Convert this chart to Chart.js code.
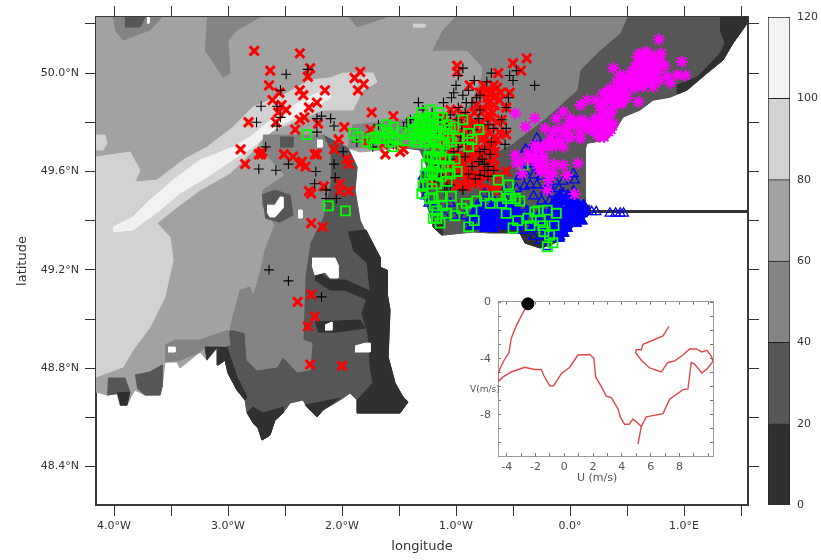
<!DOCTYPE html>
<html>
<head>
<meta charset="utf-8">
<script src="https://cdn.jsdelivr.net/npm/chart.js@4/dist/chart.umd.min.js"></script>
<style>
  html, body { margin: 0; background: #fff; }
  #wrap { position: relative; width: 821px; height: 560px; overflow: hidden; font-family: "DejaVu Sans", sans-serif; }
  canvas { position: absolute; }
  #map { filter: blur(0.35px); }
  #inset { filter: blur(0.5px); }
  .lbl { position: absolute; font-size: 11px; color: #555; white-space: nowrap; filter: blur(0.3px); }
</style>
</head>
<body>
<div id="wrap">
  <canvas id="map" width="821" height="560" style="left:0;top:0"></canvas>
  <canvas id="bar" width="53" height="560" style="left:768px;top:0"></canvas>
  <canvas id="inset" width="260" height="205" style="left:462px;top:285px"></canvas>
  <div class="lbl" style="left:470px;top:384px;font-size:9px">V(m/s)</div>
  <div class="lbl" style="left:577px;top:471px">U (m/s)</div>
</div>
<script>
// axes
const lonTicks = [-4, -3.5, -3, -2.5, -2, -1.5, -1, -0.5, 0, 0.5, 1, 1.5];
const lonLabels = ['4.0°W', '', '3.0°W', '', '2.0°W', '', '1.0°W', '', '0.0°', '', '1.0°E', ''];
const latTicks = [48.4, 48.6, 48.8, 49, 49.2, 49.4, 49.6, 49.8, 50, 50.2];
const latLabels = ['48.4°N', '', '48.8°N', '', '49.2°N', '', '49.6°N', '', '50.0°N', ''];

// colour bar
const bandValues = [20, 20, 20, 20, 20, 20];
const bandColors = ['#303030', '#565656', '#848484', '#a2a2a2', '#d2d2d2', '#f2f2f2'];

// coast, lon/lat
const neCoast = [[1.561,50.207],[1.430,50.122],[1.342,50.053],[1.202,50.000],[1.026,49.931],[0.877,49.902],[0.728,49.890],[0.614,49.850],[0.465,49.821],[0.412,49.780],[0.325,49.728],[0.149,49.715],[0.132,49.687],[0.132,49.463],[0.175,49.451],[0.175,49.427]];
const seineCoast = [[0.061,49.390],[-0.088,49.321],[-0.175,49.301],[-0.263,49.289],[-0.395,49.309],[-0.439,49.350],[-0.702,49.350],[-0.851,49.354],[-1.123,49.341],[-1.202,49.374],[-1.228,49.431],[-1.316,49.524],[-1.316,49.577],[-1.254,49.618],[-1.316,49.687],[-1.491,49.699],[-1.667,49.687],[-1.842,49.679],[-1.947,49.695]];
const cotentinCoast = [[-1.868,49.618],[-1.886,49.524],[-1.842,49.402],[-1.772,49.333],[-1.667,49.252],[-1.667,49.211],[-1.605,49.199],[-1.605,49.106],[-1.579,49.037],[-1.596,48.846],[-1.535,48.740],[-1.465,48.683],[-1.421,48.663],[-1.491,48.618],[-1.868,48.618],[-1.868,48.671]];
const bayCoast = [[-1.930,48.699],[-2.018,48.671],[-2.167,48.630],[-2.219,48.602],[-2.307,48.642],[-2.342,48.671],[-2.456,48.659],[-2.518,48.618],[-2.588,48.589],[-2.632,48.528],[-2.702,48.508],[-2.737,48.557],[-2.781,48.577],[-2.833,48.618],[-2.851,48.671],[-2.921,48.711],[-3.000,48.780],[-3.026,48.833],[-3.088,48.813]];
const brittanyCoast = [[-3.096,48.882],[-3.184,48.833],[-3.246,48.866],[-3.421,48.801],[-3.447,48.825],[-3.553,48.825],[-3.579,48.724],[-3.596,48.691],[-3.728,48.691],[-3.816,48.711],[-3.842,48.691],[-3.886,48.650],[-3.947,48.650],[-3.974,48.699],[-4.061,48.691],[-4.123,48.699],[-4.158,48.703]];
const midEastEdge = [[0.500,50.228],[0.439,50.163],[0.263,50.093],[0.088,50.012],[0.061,49.931],[-0.202,49.821],[-0.500,49.715],[-0.614,49.687]];

// depth bands, one polygon each
const sea60 = [[-4.158,50.228],[1.561,50.228],...neCoast,...seineCoast,...cotentinCoast,...bayCoast,...brittanyCoast];
const band80 = [[-4.158,49.659],[-3.860,49.679],[-3.772,49.606],[-3.816,49.557],[-3.623,49.565],[-3.395,49.646],[-3.184,49.699],[-2.956,49.780],[-2.781,49.862],[-2.482,49.919],[-2.281,49.972],[-2.105,49.980],[-1.991,50.000],[-1.728,50.000],[-1.693,49.963],[-1.816,49.931],[-1.904,49.850],[-2.167,49.850],[-2.342,49.817],[-2.693,49.748],[-2.746,49.699],[-2.982,49.593],[-3.246,49.524],[-3.447,49.455],[-3.623,49.390],[-3.509,49.333],[-3.482,49.240],[-3.553,49.089],[-3.684,48.967],[-3.833,48.874],[-3.921,48.805],[-4.158,48.764]];
const islet80 = [[-4.158,49.748],[-4.079,49.748],[-4.061,49.715],[-4.096,49.687],[-4.158,49.687]];
const patch80 = [[-1.377,50.199],[-1.272,50.199],[-1.272,50.187],[-1.377,50.187]];
const streak100 = [[-4.009,49.374],[-3.833,49.415],[-3.684,49.484],[-3.482,49.565],[-3.246,49.646],[-2.956,49.699],[-2.807,49.740],[-2.658,49.797],[-2.456,49.862],[-2.219,49.919],[-2.105,49.923],[-2.105,49.898],[-2.342,49.837],[-2.570,49.780],[-2.781,49.699],[-2.921,49.659],[-3.184,49.577],[-3.421,49.512],[-3.596,49.443],[-3.833,49.362],[-4.009,49.354]];
const east20 = [[0.500,50.228],[1.561,50.228],...neCoast,...seineCoast.slice(0,16),...midEastEdge.slice().reverse()];
const west20 = [[-2.167,49.748],[-1.947,49.695],...cotentinCoast,...bayCoast,[-3.026,48.833],[-2.982,48.955],[-2.851,48.943],[-2.368,49.280]];
const midTop40 = [[-1.009,50.228],...midEastEdge,[-1.140,49.687],[-1.491,49.699],[-1.947,49.695],[-1.904,49.789],[-1.491,49.809],[-1.053,49.817],[-0.877,49.870],[-0.772,49.984],[-0.763,50.024],[-0.904,50.093],[-1.202,50.093],[-1.114,50.175]];
const midWest40 = [[-2.693,49.748],[-2.167,49.748],[-2.105,49.687],[-2.105,49.553],[-2.167,49.415],[-2.281,49.309],[-2.325,49.171],[-2.342,48.915],[-2.263,48.902],[-2.281,48.793],[-2.395,48.785],[-2.518,48.846],[-2.570,48.805],[-2.746,48.793],[-2.833,48.833],[-2.851,48.943],[-2.982,48.963],[-2.895,49.118],[-2.807,49.130],[-2.781,49.089],[-2.719,49.187],[-2.675,49.280],[-2.588,49.382],[-2.702,49.463],[-2.693,49.524],[-2.500,49.585],[-2.702,49.687]];
const strip40 = [[-3.553,48.894],[-3.465,48.915],[-3.246,48.915],[-3.000,48.955],[-2.982,48.894],[-3.202,48.886],[-3.246,48.866],[-3.421,48.833],[-3.553,48.825]];
const topLeft40 = [[-4.009,50.228],[-3.579,50.228],[-3.684,50.175],[-3.921,50.134],[-3.991,50.175]];
const topA40 = [[-3.184,50.228],[-2.719,50.228],[-2.921,50.175],[-3.000,50.134],[-2.982,50.000],[-3.044,49.984],[-3.140,50.053],[-3.202,50.093]];
const topB40 = [[-1.947,50.228],[-1.605,50.228],[-1.868,50.187]];
const topLeft20 = [[-3.904,50.228],[-3.728,50.228],[-3.772,50.187],[-3.904,50.187]];
const brittany20a = [[-3.816,48.772],[-3.684,48.785],[-3.579,48.813],[-3.579,48.724],[-3.596,48.691],[-3.728,48.691],[-3.798,48.720]];
const brittany20b = [[-4.053,48.760],[-3.904,48.760],[-3.860,48.703],[-4.061,48.691]];
const ring20 = [[-2.702,49.504],[-2.588,49.524],[-2.456,49.504],[-2.430,49.423],[-2.544,49.394],[-2.675,49.411]];
const patch20 = [[-2.544,49.740],[-2.430,49.740],[-2.430,49.699],[-2.544,49.699]];

const dark0a = [[-1.947,49.354],[-1.789,49.362],[-1.667,49.252],[-1.667,49.211],[-1.605,49.199],[-1.605,49.106],[-1.579,49.037],[-1.596,48.846],[-1.535,48.740],[-1.465,48.683],[-1.421,48.663],[-1.491,48.618],[-1.868,48.618],[-1.868,48.671],[-1.728,48.740],[-1.754,48.805],[-1.772,48.935],[-1.825,49.024],[-1.754,49.118],[-1.781,49.228],[-1.904,49.280]];
const dark0b = [[-2.237,49.199],[-2.105,49.159],[-1.974,49.159],[-1.772,49.118],[-1.772,49.077],[-1.974,49.118],[-2.105,49.118],[-2.237,49.159]];
const dark0c = [[-2.237,48.988],[-1.842,48.996],[-1.798,48.963],[-2.061,48.947],[-2.211,48.947]];
const dark0d = [[-2.833,48.618],[-2.781,48.642],[-2.693,48.618],[-2.518,48.642],[-2.518,48.618],[-2.588,48.589],[-2.632,48.528],[-2.702,48.508],[-2.737,48.557],[-2.781,48.577]];
const dark0e = [[-2.325,48.650],[-2.018,48.679],[-2.167,48.630],[-2.219,48.602],[-2.307,48.642]];
const dark0f = [[-3.184,48.833],[-3.202,48.886],[-3.009,48.886],[-2.921,48.764],[-2.833,48.683],[-2.851,48.671],[-2.921,48.711],[-3.000,48.780],[-3.026,48.833],[-3.088,48.813],[-3.096,48.882]];
const dark0g = [[-3.974,48.699],[-3.860,48.703],[-3.886,48.650],[-3.947,48.650]];
const dark0h = [[1.316,50.228],[1.561,50.228],[1.561,50.207],[1.430,50.122],[1.342,50.053],[1.202,50.000],[1.026,49.931],[0.939,49.915],[0.939,49.951],[1.114,49.984],[1.202,50.024],[1.316,50.081],[1.360,50.122],[1.316,50.175]];
const dark0i = [[-0.719,49.354],[-0.439,49.350],[-0.395,49.309],[-0.263,49.289],[-0.175,49.301],[-0.088,49.321],[0.061,49.390],[0.175,49.427],[0.175,49.463],[0.044,49.463],[0.000,49.394],[-0.175,49.341],[-0.351,49.354],[-0.702,49.378]];
const dark0j = [[-1.202,49.374],[-1.123,49.341],[-1.114,49.382],[-1.211,49.402]];

const hole1 = [[-2.658,49.463],[-2.588,49.463],[-2.544,49.496],[-2.518,49.496],[-2.518,49.451],[-2.588,49.415],[-2.632,49.415],[-2.658,49.435]];
const hole2 = [[-2.386,49.443],[-2.351,49.443],[-2.351,49.411],[-2.386,49.411]];
const hole3 = [[-2.219,49.728],[-2.175,49.728],[-2.175,49.699],[-2.219,49.699]];
const hole4 = [[-2.263,49.248],[-2.061,49.248],[-2.035,49.220],[-2.035,49.167],[-2.105,49.167],[-2.149,49.191],[-2.237,49.179],[-2.263,49.220]];
const hole5 = [[-2.149,48.976],[-2.088,48.988],[-2.088,48.955],[-2.149,48.955]];
const hole6 = [[-1.886,48.890],[-1.798,48.902],[-1.754,48.902],[-1.754,48.866],[-1.886,48.866]];
const hole7 = [[-3.526,48.886],[-3.465,48.886],[-3.465,48.866],[-3.526,48.866]];
const hole8 = [[-3.711,50.228],[-3.693,50.228],[-3.693,50.203],[-3.711,50.203]];
const jetty = [[0.13,49.437],[1.561,49.437]];

// trajectory end points
const redPts = [[-2.77,50.09],[-2.37,50.08],[-2.28,50.02],[-2.63,50.01],[-2.30,49.985],[-2.64,49.95],[-2.37,49.93],[-2.34,49.91],[-2.15,49.93],[-2.55,49.92],[-2.61,49.89],[-2.53,49.87],[-2.49,49.85],[-2.29,49.86],[-2.22,49.88],[-2.56,49.84],[-2.58,49.80],[-2.37,49.81],[-2.33,49.82],[-2.82,49.80],[-2.41,49.77],[-2.21,49.795],[-1.98,49.78],[-2.03,49.73],[-2.89,49.69],[-2.71,49.67],[-2.73,49.67],[-2.70,49.68],[-2.51,49.67],[-2.43,49.66],[-2.85,49.63],[-2.37,49.63],[-2.32,49.62],[-2.35,49.64],[-2.24,49.67],[-2.22,49.67],[-2.07,49.69],[-1.96,49.65],[-1.94,49.63],[-2.29,49.52],[-2.27,49.51],[-2.16,49.54],[-2.02,49.55],[-2.02,49.52],[-1.94,49.52],[-2.27,49.39],[-2.17,49.375],[-1.84,50.005],[-1.89,49.98],[-1.81,49.955],[-1.86,49.93],[-1.74,49.84],[-1.55,49.825],[-1.75,49.77],[-1.78,49.72],[-1.64,49.71],[-1.62,49.67],[-1.49,49.68],
  [-2.27,49.10],[-2.39,49.07],[-2.24,49.01],[-2.30,48.97],[-2.28,48.815],[-2.00,48.81],
  [-0.99,50.03],[-0.99,50.005],[-0.50,50.04],[-0.38,50.06],[-0.43,50.01],[-0.63,50.00],[-0.88,49.95],[-0.73,49.93],[-0.64,49.94],[-0.61,49.92],[-0.53,49.92],[-0.70,49.82],[-0.60,49.81],[-0.56,49.75],[-1.05,49.85],[-1.11,49.82],[-0.99,49.85],[-0.88,49.82],[-0.79,49.795],[-0.70,49.755],[-0.76,49.74],[-0.82,49.71],[-0.73,49.71],[-0.67,49.70],[-0.79,49.67],[-0.88,49.65],[-0.67,49.65],[-0.96,49.67],[-1.02,49.63],[-0.94,49.59],[-0.85,49.565],[-0.91,49.54],[-0.99,49.54],[-0.56,49.60],[-0.64,49.54],[-0.64,49.52],[-0.76,49.66],[-1.11,49.58],[-1.05,49.565],[-1.20,49.55],[-1.14,49.71],[-0.96,49.62],[-0.82,49.59],[-0.79,49.92],[-0.67,49.90],[-0.56,49.86],[-1.46,49.69],[-0.94,49.71],[-0.85,49.755],[-0.91,49.78],[-0.73,49.78],[-0.64,49.73],[-0.70,49.92],[-0.67,49.95],[-0.73,49.58],[-0.91,49.565],
  [-1.08,49.80],[-1.02,49.79],[-0.97,49.80],[-0.93,49.83],[-0.84,49.84],[-0.82,49.87],[-0.75,49.85],[-0.72,49.88],[-0.66,49.87],[-0.62,49.89],[-0.68,49.84],[-0.64,49.80],[-0.74,49.82],[-0.85,49.79],[-0.80,49.76],[-0.93,49.75],[-0.87,49.72],[-0.78,49.73],[-0.70,49.72],[-0.62,49.76],[-0.66,49.68],[-0.74,49.69],[-0.84,49.68],[-0.90,49.69],[-0.98,49.66],[-1.04,49.69],[-0.93,49.63],[-0.84,49.64],[-0.72,49.64],[-0.66,49.62],[-1.00,49.60],[-0.88,49.60],[-0.78,49.61],[-0.71,49.60],[-0.86,49.55],[-0.80,49.56],[-0.96,49.55],[-0.70,49.53],[-0.62,49.58],[-0.76,49.53],[-1.08,49.62],[-1.12,49.65],[-1.08,49.74],[-0.98,49.76],[-1.02,49.73],[-0.72,49.90],[-0.65,49.91],[-0.76,49.95]];
const blackPts = [[-2.49,49.995],[-2.30,50.015],[-2.54,49.93],[-2.71,49.865],[-2.57,49.865],[-2.54,49.82],[-2.57,49.785],[-2.75,49.80],[-2.18,49.825],[-2.22,49.815],[-2.10,49.815],[-2.07,49.785],[-2.22,49.76],[-2.67,49.70],[-2.73,49.61],[-2.58,49.605],[-2.47,49.63],[-2.23,49.60],[-2.07,49.63],[-2.06,49.575],[-2.24,49.55],[-2.14,49.525],[-2.14,49.49],[-2.05,49.49],[-1.99,49.68],[-1.33,49.88],[-1.29,49.85],[-1.40,49.81],[-1.43,49.80],[-1.46,49.78],[-1.68,49.79],[-1.73,49.70],[-1.87,49.72],[-1.55,49.71],
  [-2.64,49.20],[-2.47,49.155],[-2.18,49.09],
  [-0.94,50.02],[-0.98,49.99],[-0.69,50.00],[-0.73,49.965],[-0.84,49.97],[-0.47,50.01],[-0.53,49.99],[-0.50,49.97],[-0.31,49.95],[-1.02,49.92],[-1.21,49.84],[-1.14,49.81],[-1.05,49.83],[-1.11,49.88],[-1.04,49.90],[-0.98,49.86],[-0.89,49.93],[-0.86,49.88],[-0.91,49.88],[-0.79,49.91],[-0.79,49.85],[-0.80,49.815],[-0.54,49.90],[-0.56,49.86],[-0.60,49.81],[-0.72,49.79],[-0.67,49.775],[-0.56,49.775],[-0.69,49.72],[-0.57,49.71],[-0.96,49.74],[-0.89,49.71],[-0.89,49.75],[-0.98,49.70],[-0.79,49.68],[-0.70,49.67],[-0.92,49.66],[-1.02,49.68],[-1.10,49.69],[-1.20,49.66],[-1.17,49.625],[-0.86,49.62],[-0.75,49.63],[-0.75,49.605],[-0.67,49.605],[-0.72,49.58],[-0.79,49.585],[-0.89,49.59],[-1.01,49.59],[-1.05,49.545],[-1.08,49.54],[-0.94,49.525],[-1.14,49.605],[-1.05,49.65],
  [-0.95,49.79],[-0.85,49.77],[-1.08,49.78],[-0.99,49.81],[-0.92,49.84],[-0.82,49.90],[-0.94,49.91],[-1.00,49.95],[-0.75,49.69],[-0.77,49.65],[-0.72,49.62],[-0.83,49.57],[-1.12,49.58],[-1.16,49.56],[-1.10,49.52],[-1.22,49.71],[-1.16,49.75],[-0.80,49.64]];
const greenPts = [[-2.31,49.75],[-1.90,49.755],[-1.86,49.74],[-1.78,49.72],[-1.70,49.74],[-1.61,49.79],[-1.55,49.78],[-1.64,49.735],[-1.55,49.74],[-1.55,49.70],[-1.44,49.725],[-1.33,49.775],[-1.27,49.80],[-1.32,49.735],[-2.12,49.46],[-1.97,49.44],[-1.67,49.735],[-1.74,49.735],
  [-1.34,49.75],[-1.27,49.81],[-1.32,49.79],[-1.15,49.84],[-1.20,49.79],[-1.14,49.78],[-1.24,49.755],[-1.27,49.72],[-1.20,49.72],[-1.11,49.755],[-1.05,49.77],[-1.07,49.735],[-1.14,49.72],[-0.94,49.81],[-1.02,49.78],[-0.89,49.755],[-0.86,49.73],[-0.89,49.70],[-0.98,49.735],[-0.80,49.77],[-1.21,49.66],[-1.13,49.66],[-1.20,49.625],[-1.11,49.62],[-1.01,49.65],[-1.17,49.59],[-1.05,49.59],[-0.99,49.60],[-1.13,49.58],[-1.27,49.585],[-1.29,49.54],[-1.21,49.53],[-1.23,49.49],[-1.13,49.50],[-1.04,49.50],[-1.17,49.44],[-1.14,49.39],[-1.08,49.43],[-1.01,49.42],[-0.91,49.47],[-0.82,49.48],[-0.63,49.565],[-0.54,49.545],[-0.64,49.50],[-0.53,49.50],[-0.48,49.49],[-0.44,49.48],[-0.41,49.625],[-0.31,49.436],[-0.37,49.41],[-0.23,49.355],[-0.20,49.294],[-0.15,49.31],[-0.20,49.443],[-0.12,49.43],[-0.89,49.375],[-0.75,49.50],[-0.56,49.43],[-0.50,49.37],[-1.17,49.41],
  [-1.37,49.77],[-1.32,49.815],[-1.24,49.82],[-1.20,49.82],[-1.24,49.79],[-1.30,49.755],[-1.17,49.755],[-1.17,49.69],[-1.23,49.69],[-1.26,49.63],[-1.23,49.59],[-1.10,49.65],
  [-1.42,49.75],[-1.38,49.80],[-1.30,49.84],[-1.22,49.85],[-1.26,49.77],[-1.34,49.72],[-1.16,49.80],[-1.12,49.82],[-1.08,49.79],[-1.18,49.73],[-1.10,49.71],[-1.04,49.72],[-1.22,49.74],[-1.28,49.75],[-1.36,49.735],[-1.48,49.76],[-1.52,49.73],[-1.60,49.76],[-1.58,49.72],[-1.66,49.77],[-1.72,49.71],[-1.15,49.68],[-1.18,49.65],[-1.24,49.66],[-1.16,49.62],[-1.06,49.62],[-1.21,49.60],[-1.08,49.56],[-1.17,49.55],[-1.25,49.55],[-1.30,49.51],[-1.20,49.49],[-1.19,49.46],[-1.12,49.46],[-1.20,49.41],[-0.95,49.45],[-0.86,49.44],[-0.70,49.47],[-0.60,49.47],[-0.55,49.49],[-0.26,49.40],[-0.28,49.44],[-0.24,49.38],[-0.18,49.34],[-0.14,49.38],[-0.35,49.38],[-0.46,49.40],[-0.84,49.40]];
const bluePts = [[-0.12,49.75],[-0.29,49.735],[-0.39,49.69],[-0.34,49.69],[-0.29,49.66],[-0.38,49.63],[-0.29,49.62],[-0.44,49.58],[-0.32,49.585],[-0.40,49.54],[-0.35,49.545],[-0.29,49.545],[-0.18,49.55],[-0.06,49.56],[0.03,49.59],[0.04,49.565],[-0.15,49.51],[-0.06,49.51],[0.03,49.52],[-0.75,49.51],[-0.57,49.525],[-0.70,49.49],[-0.56,49.48],[-0.48,49.456],[-0.41,49.456],[-0.32,49.50],[-0.25,49.48],[-0.18,49.48],[-0.09,49.48],[-0.01,49.48],[-0.38,49.44],[-0.18,49.43],[-0.22,49.456],[-0.09,49.44],[0.04,49.456],[0.10,49.456],[0.19,49.436],[0.23,49.436],[0.35,49.43],[0.40,49.43],[0.44,49.43],[0.47,49.43],[-1.29,49.58],[-1.27,49.545],[-1.27,49.50],[-1.24,49.47],[-1.10,49.42],[-1.02,49.42],[-1.05,49.47],[-0.92,49.42],[-0.44,49.375],[-0.31,49.395],[-0.41,49.36],[-0.32,49.335],[-0.20,49.36],[-0.26,49.32],[-0.12,49.375],[-0.06,49.39],[0.00,49.39],[-0.20,49.294],[-0.09,49.335],[-0.56,49.40],
  [-0.40,49.60],[-0.36,49.64],[-0.25,49.58],[-0.13,49.56],[-0.10,49.53],[-0.68,49.45],[-0.47,49.53],[-0.22,49.52],[-1.19,49.45],[-1.15,49.44]];
const blueCore = [[-0.86,49.38],[-0.82,49.41],[-0.78,49.38],[-0.80,49.44],[-0.74,49.42],[-0.72,49.39],[-0.70,49.44],[-0.66,49.40],[-0.68,49.37],[-0.62,49.42],[-0.64,49.45],[-0.60,49.39],[-0.58,49.44],[-0.55,49.41],[-0.52,49.44],[-0.50,49.41],[-0.76,49.46],[-0.84,49.43],[-0.66,49.47],[-0.57,49.38],
  [-0.06,49.43],[-0.02,49.45],[0.02,49.43],[0.06,49.44],[-0.04,49.40],[0.00,49.41],[0.04,49.41],[0.10,49.43],[-0.08,49.37],[-0.03,49.37],[0.01,49.46],[-0.05,49.48],[0.06,49.47],[-0.11,49.41],[-0.14,49.35],[-0.10,49.33],[-0.06,49.35],
  [-0.47,49.38],[-0.44,49.42],[-0.40,49.40],[-0.36,49.43],[-0.33,49.37],[-0.29,49.41],[-0.26,49.37],[-0.24,49.43],[-0.20,49.40],[-0.16,49.44],[-0.16,49.38],[-0.12,49.40],[-0.09,49.45],[-0.12,49.46],[-0.22,49.34],[-0.06,49.37],[0.05,49.39],[0.10,49.40],[0.12,49.46],[0.13,49.44],[0.03,49.49],[-0.02,49.50],[-0.09,49.50],[-0.13,49.48],
  [-0.88,49.40],[-0.76,49.41],[-0.70,49.41],[-0.64,49.42],[-0.60,49.46],[-0.54,49.38],[-0.48,49.44],[-0.74,49.37],[-0.81,49.46],[-0.68,49.46],[-0.56,49.46]];
const magentaPts = [[0.78,50.137],[0.67,50.087],[0.59,50.066],[0.80,50.08],[0.83,50.03],[0.98,50.046],[1.01,49.99],[0.94,49.992],[0.85,49.985],[0.76,50.00],[0.67,50.04],[0.60,50.012],[0.53,49.985],[0.64,50.00],[0.56,49.97],[0.61,49.96],[0.73,49.944],[0.70,49.97],[0.38,50.02],[0.44,49.992],[0.50,49.95],[0.41,49.93],[0.35,49.937],[0.29,49.917],[0.32,49.89],[0.47,49.917],[0.44,49.877],[0.38,49.863],[0.60,49.883],[0.26,49.863],[0.34,49.836],[0.15,49.89],[0.09,49.87],[-0.06,49.843],[-0.12,49.816],[0.00,49.816],[0.06,49.795],[0.12,49.788],[0.22,49.816],[0.29,49.788],[0.38,49.795],[0.34,49.761],[0.26,49.741],[0.29,49.775],[0.18,49.768],[0.09,49.761],[0.03,49.788],[-0.03,49.782],[-0.31,49.816],[-0.39,49.782],[-0.22,49.775],[-0.15,49.761],[-0.09,49.728],[0.00,49.741],[0.09,49.734],[-0.06,49.70],[-0.20,49.714],[-0.26,49.687],[-0.32,49.66],[-0.23,49.66],[-0.37,49.673],[-0.48,49.667],[-0.47,49.633],[-0.42,49.592],[-0.29,49.626],[-0.22,49.619],[-0.15,49.592],[-0.06,49.626],[-0.03,49.585],[0.07,49.633],[-0.20,49.524],[0.04,49.508],[-0.19,49.565],[-0.48,49.836],[0.61,50.08],[0.73,50.04],[0.79,50.05],[0.41,49.965],[0.54,50.005],[0.47,49.97],[0.64,49.944],[0.56,49.937],[0.23,49.89],[0.28,49.822],[0.69,50.06],[0.63,50.03],[0.72,50.005],[0.57,50.025],[0.78,49.97],[0.50,49.985],[0.38,49.904],[0.42,49.897],[-0.17,49.734],[-0.29,49.687],[-0.31,49.707],
  [0.66,50.02],[0.60,50.04],[0.68,50.00],[0.62,49.98],[0.55,49.99],[0.58,50.00],[0.52,49.96],[0.48,49.94],[0.44,49.95],[0.40,49.90],[0.36,49.89],[0.33,49.92],[0.30,49.88],[0.28,49.85],[0.36,49.84],[0.32,49.80],[0.24,49.79],[0.20,49.79],[0.14,49.80],[0.10,49.81],[0.04,49.80],[0.00,49.79],[-0.05,49.76],[-0.10,49.77],[-0.02,49.74],[-0.12,49.71],[-0.16,49.70],[-0.24,49.70],[-0.28,49.70],[-0.24,49.64],[-0.30,49.65],[-0.36,49.65],[-0.42,49.64],[-0.26,49.60],[-0.20,49.60],[-0.14,49.63],[0.72,49.98],[0.68,50.05],[0.74,50.07],[0.78,50.02],[0.70,50.03],[0.64,50.06],[0.88,49.96],[0.65,49.97],[0.58,49.95],[0.50,49.90],[0.46,49.88],[0.36,49.77],[0.30,49.74],[0.24,49.75]];

// inset, wind hodograph
const uTicks = [-4, -3, -2, -1, 0, 1, 2, 3, 4, 5, 6, 7, 8, 9, 10];
const uLabeled = [-4, -2, 0, 2, 4, 6, 8];
const vTicks = [-10, -9, -8, -7, -6, -5, -4, -3, -2, -1, 0];
const vLabeled = [-8, -4, 0];
const windU = [-2.52,-2.87,-3.33,-3.68,-3.84,-4.14,-4.37,-4.60,-4.60,-4.25,-3.68,-2.75,-2.06,-1.59,-1.43,-1.01,-0.74,-0.20,0.38,0.95,1.76,2.06,2.18,2.57,2.92,3.27,3.73,3.89,4.19,4.50,4.77,5.12,5.35,5.12,5.35,5.70,6.05,6.86,7.32,8.25,8.59,8.82,9.05,9.56,9.91,10.33,10.21,9.91,9.56,9.17,8.71,8.25,7.67,7.20,6.74,5.93,5.35,4.96,5.00,5.35,5.47,6.86,7.27];
const windV = [-0.09,-0.73,-1.64,-2.56,-3.58,-4.04,-4.50,-5.07,-5.64,-5.30,-4.95,-4.61,-4.77,-4.77,-5.18,-5.94,-5.94,-5.07,-4.61,-3.74,-3.70,-3.97,-5.30,-5.98,-6.67,-6.78,-7.58,-8.15,-8.68,-8.68,-8.31,-8.61,-8.84,-10.09,-8.84,-8.15,-8.08,-7.92,-6.89,-6.21,-6.16,-4.27,-4.38,-5.02,-4.73,-4.20,-3.81,-3.40,-3.52,-3.31,-3.31,-3.74,-4.16,-4.27,-4.95,-4.66,-4.11,-3.58,-3.36,-3.36,-2.97,-2.37,-1.69];

const toXY = pts => pts.map(p => ({x: p[0], y: p[1]}));

// filled map polygon
const poly = (pts, color) => ({
  data: toXY(pts), showLine: true, fill: 'shape', backgroundColor: color,
  borderColor: color, borderWidth: 1, pointRadius: 0, tension: 0
});
// marker cloud
const marks = (pts, style, radius, color, width, fillColor) => ({
  data: toXY(pts), showLine: false, pointStyle: style, pointRadius: radius,
  pointBorderColor: color, pointBackgroundColor: fillColor || 'transparent', pointBorderWidth: width
});

const c20 = bandColors[1], c40 = bandColors[2], c60 = bandColors[3], c80 = bandColors[4], c100 = bandColors[5], c0 = bandColors[0];

// painter's order, first is at the bottom
const layers = [
  poly(sea60, c60), poly(band80, c80), poly(islet80, c80), poly(patch80, c80), poly(streak100, c100),
  poly(east20, c20), poly(west20, c20), poly(midTop40, c40), poly(midWest40, c40), poly(strip40, c40),
  poly(topLeft40, c40), poly(topA40, c40), poly(topB40, c40),
  poly(topLeft20, c20), poly(brittany20a, c20), poly(brittany20b, c20), poly(ring20, c20), poly(patch20, c20),
  poly(dark0a, c0), poly(dark0b, c0), poly(dark0c, c0), poly(dark0d, c0), poly(dark0e, c0),
  poly(dark0f, c0), poly(dark0g, c0), poly(dark0h, c0), poly(dark0i, c0), poly(dark0j, c0),
  poly(hole1, '#fff'), poly(hole2, '#fff'), poly(hole3, '#fff'), poly(hole4, '#fff'),
  poly(hole5, '#fff'), poly(hole6, '#fff'), poly(hole7, '#fff'), poly(hole8, '#fff'),
  {data: toXY(jetty), showLine: true, borderColor: '#333', borderWidth: 3, pointRadius: 0},
  marks(redPts, 'crossRot', 6.5, '#ff0000', 3),
  marks(blackPts, 'cross', 5, '#000', 1.1),
  marks(blueCore, 'triangle', 7, '#0000ff', 1, '#0000ff'),
  marks(bluePts, 'triangle', 5.5, '#0000ff', 1.3),
  marks(greenPts, 'rect', 6.4, '#00ff00', 1.8),
  marks(magentaPts, 'star', 6, '#ff00ff', 2)
];
layers.forEach((d, i) => { d.order = layers.length - i; });

const frame = {color: '#3a3a3a', width: 2};
const gridOff = {drawOnChartArea: false, tickLength: 11, color: '#333', tickWidth: 1};
const fixTicks = arr => s => { s.ticks = arr.map(v => ({value: v})); };
const tickFont = {family: 'DejaVu Sans', size: 11};

new Chart(document.getElementById('map'), {
  type: 'scatter',
  data: {datasets: layers},
  options: {
    responsive: false, animation: false,
    layout: {padding: 0},
    plugins: {legend: {display: false}, tooltip: {enabled: false}},
    scales: {
      x: {
        position: 'bottom', min: -4.158, max: 1.561, border: frame, grid: gridOff,
        afterBuildTicks: fixTicks(lonTicks), afterFit: s => { s.height = 55; },
        ticks: {autoSkip: false, maxRotation: 0, padding: 4, color: '#333', font: tickFont, callback: (v, i) => lonLabels[i]},
        title: {display: true, text: 'longitude', color: '#333', font: {family: 'DejaVu Sans', size: 13}, padding: {top: 0, bottom: 6}}
      },
      xTop: {
        axis: 'x', position: 'top', min: -4.158, max: 1.561, border: frame, grid: gridOff,
        afterBuildTicks: fixTicks(lonTicks), afterFit: s => { s.height = 17; },
        ticks: {autoSkip: false, maxRotation: 0, callback: () => ''}
      },
      y: {
        position: 'left', min: 48.244, max: 50.228, border: frame, grid: gridOff,
        afterBuildTicks: fixTicks(latTicks), afterFit: s => { s.width = 96; },
        ticks: {autoSkip: false, padding: 6, color: '#333', font: tickFont, callback: (v, i) => latLabels[i]},
        title: {display: true, text: 'latitude', color: '#333', font: {family: 'DejaVu Sans', size: 13}, padding: {top: 15, bottom: 0}}
      },
      yRight: {
        axis: 'y', position: 'right', min: 48.244, max: 50.228, border: frame, grid: gridOff,
        afterBuildTicks: fixTicks(latTicks), afterFit: s => { s.width = 73; },
        ticks: {autoSkip: false, callback: () => ''}
      }
    }
  }
});

// colour bar
new Chart(document.getElementById('bar'), {
  type: 'bar',
  data: {
    labels: [''],
    datasets: bandValues.map((v, i) => ({
      data: [v], backgroundColor: bandColors[i], borderColor: '#222', borderWidth: 1,
      barPercentage: 1, categoryPercentage: 1
    }))
  },
  options: {
    responsive: false, animation: false,
    layout: {padding: {top: 17, bottom: 55}},
    plugins: {legend: {display: false}, tooltip: {enabled: false}},
    scales: {
      x: {stacked: true, display: false},
      y: {
        stacked: true, position: 'right', min: 0, max: 120,
        border: {display: false},
        grid: {display: false, drawTicks: false, tickLength: 0},
        afterFit: s => { s.width = 31; },
        ticks: {stepSize: 20, padding: 7, color: '#333', font: tickFont}
      }
    }
  }
});

// inset
const insetGrid = {drawOnChartArea: false, tickLength: -3, color: '#777'};
const insetBorder = {color: '#999', width: 1};
const insetFont = {family: 'DejaVu Sans', size: 11};
new Chart(document.getElementById('inset'), {
  type: 'scatter',
  data: {
    datasets: [
      {data: [{x: windU[0], y: windV[0]}], pointRadius: 6, pointBackgroundColor: '#000', pointBorderColor: '#000', clip: false, order: 1},
      {data: windU.map((u, i) => ({x: u, y: windV[i]})), showLine: true, borderColor: '#e04848', borderWidth: 1.4, pointRadius: 0, tension: 0, order: 2}
    ]
  },
  options: {
    responsive: false, animation: false,
    layout: {padding: 0},
    plugins: {legend: {display: false}, tooltip: {enabled: false}},
    scales: {
      x: {
        position: 'bottom', min: -4.6, max: 10.33, border: insetBorder, grid: insetGrid,
        afterBuildTicks: fixTicks(uTicks), afterFit: s => { s.height = 34; },
        ticks: {autoSkip: false, maxRotation: 0, padding: 8, color: '#555', font: insetFont, callback: v => uLabeled.includes(v) ? String(v) : ''}
      },
      xTop: {
        axis: 'x', position: 'top', min: -4.6, max: 10.33, border: insetBorder, grid: insetGrid,
        afterBuildTicks: fixTicks(uTicks), afterFit: s => { s.height = 10; },
        ticks: {autoSkip: false, maxRotation: 0, callback: () => ''}
      },
      y: {
        position: 'left', min: -10.94, max: 0.07, border: insetBorder, grid: insetGrid,
        afterBuildTicks: fixTicks(vTicks), afterFit: s => { s.width = 36; },
        ticks: {autoSkip: false, padding: 10, color: '#555', font: insetFont, callback: v => vLabeled.includes(v) ? String(v) : ''}
      },
      yRight: {
        axis: 'y', position: 'right', min: -10.94, max: 0.07, border: insetBorder, grid: insetGrid,
        afterBuildTicks: fixTicks(vTicks), afterFit: s => { s.width = 9; },
        ticks: {autoSkip: false, callback: () => ''}
      }
    }
  }
});
</script>
</body>
</html>
